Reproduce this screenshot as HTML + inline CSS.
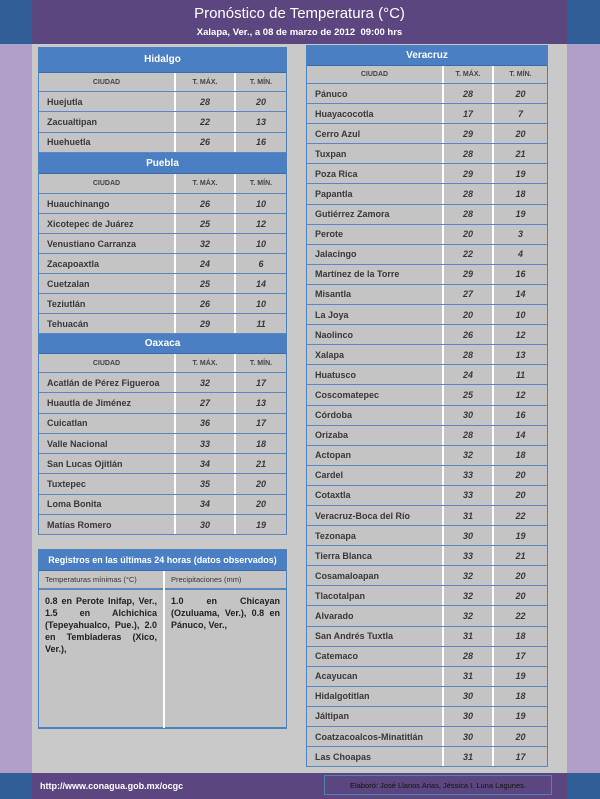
<!DOCTYPE html>
<html><head><meta charset="utf-8"><style>
*{margin:0;padding:0;box-sizing:border-box}
body{width:600px;height:799px;position:relative;background:#c9c9c9;font-family:"Liberation Sans",sans-serif;overflow:hidden}
.abs{position:absolute}
.t{position:absolute;border-left:1px solid #4f81bd;border-right:1px solid #4f81bd;background:#c4c4c4}
.ti{background:#4a7fc3;color:#fff;font-weight:bold;font-size:10px;display:flex;align-items:center;justify-content:center;border-bottom:1px solid #3a6aa8}
.r{display:flex;border-bottom:1px solid #5b86c0;color:#383838;font-size:9px;font-weight:bold}
.r div{display:flex;align-items:center}
.r .c{padding-left:8px}
.r .n{justify-content:center;font-style:italic;border-left:2px solid #fff}
.h{font-size:7px;font-weight:bold;color:#444}
.h .c{justify-content:center;padding-left:0}
.h .n{font-style:normal}
</style></head><body>
<div class="abs" style="left:0;top:0;width:32px;height:44px;background:#2f5f96"></div>
<div class="abs" style="left:567px;top:0;width:33px;height:44px;background:#2f5f96"></div>
<div class="abs" style="left:0;top:44px;width:32px;height:729px;background:#b29fc8"></div>
<div class="abs" style="left:567px;top:44px;width:33px;height:729px;background:#b29fc8"></div>
<div class="abs" style="left:32px;top:0;width:535px;height:44px;background:#5c4680;color:#fff;text-align:center">
<div style="font-size:15px;margin-top:5px">Pronóstico de Temperatura (°C)</div>
<div style="font-size:9.5px;font-weight:bold;margin-top:5px">Xalapa, Ver., a 08 de marzo de 2012&nbsp; 09:00 hrs</div></div>
<div class="abs" style="left:0;top:773px;width:600px;height:26px;background:#2f5f96"></div>
<div class="abs" style="left:32px;top:773px;width:535px;height:26px;background:#5c4680"></div>
<div class="abs" style="left:40px;top:781px;color:#fff;font-size:9px;font-weight:bold">http://www.conagua.gob.mx/ocgc</div>
<div class="abs" style="left:324px;top:775px;width:228px;height:20px;border:1px solid #4f81bd;color:#111;font-size:7.5px;display:flex;align-items:center;justify-content:center">Elaboró: José Llanos Arias, Jéssica I. Luna Lagunes.</div>
<div id="L"></div>
<script>
function tbl(x,y,w,cw,title,th,hh,rh,rows){
 let s=`<div class="t" style="left:${x}px;top:${y}px;width:${w}px"><div class="ti" style="height:${th}px">${title}</div>`;
 s+=`<div class="r h" style="height:${hh}px"><div class="c" style="width:${cw[0]}px">CIUDAD</div><div class="n" style="width:${cw[1]}px">T. MÁX.</div><div class="n" style="width:${cw[2]}px">T. MÍN.</div></div>`;
 rows.forEach(r=>{s+=`<div class="r" style="height:${rh}px"><div class="c" style="width:${cw[0]}px">${r[0]}</div><div class="n" style="width:${cw[1]}px">${r[1]}</div><div class="n" style="width:${cw[2]}px">${r[2]}</div></div>`});
 return s+'</div>';
}
const lc=[135,60,52], rc=[135,50,55];
let h='';
h+=tbl(38,47,249,lc,'Hidalgo',26,19,20.3,[['Huejutla',28,20],['Zacualtipan',22,13],['Huehuetla',26,16]]);
h+=tbl(38,153,249,lc,'Puebla',21,20,20,[['Huauchinango',26,10],['Xicotepec de Juárez',25,12],['Venustiano Carranza',32,10],['Zacapoaxtla',24,6],['Cuetzalan',25,14],['Teziutlán',26,10],['Tehuacán',29,11]]);
h+=tbl(38,334,249,lc,'Oaxaca',20,19,20.3,[['Acatlán de Pérez Figueroa',32,17],['Huautla de Jiménez',27,13],['Cuicatlan',36,17],['Valle Nacional',33,18],['San Lucas Ojitlán',34,21],['Tuxtepec',35,20],['Loma Bonita',34,20],['Matías Romero',30,19]]);
h+=tbl(306,45,242,rc,'Veracruz',21,18,20.1,[['Pánuco',28,20],['Huayacocotla',17,7],['Cerro Azul',29,20],['Tuxpan',28,21],['Poza Rica',29,19],['Papantla',28,18],['Gutiérrez Zamora',28,19],['Perote',20,3],['Jalacingo',22,4],['Martínez de la Torre',29,16],['Misantla',27,14],['La Joya',20,10],['Naolinco',26,12],['Xalapa',28,13],['Huatusco',24,11],['Coscomatepec',25,12],['Córdoba',30,16],['Orizaba',28,14],['Actopan',32,18],['Cardel',33,20],['Cotaxtla',33,20],['Veracruz-Boca del Río',31,22],['Tezonapa',30,19],['Tierra Blanca',33,21],['Cosamaloapan',32,20],['Tlacotalpan',32,20],['Alvarado',32,22],['San Andrés Tuxtla',31,18],['Catemaco',28,17],['Acayucan',31,19],['Hidalgotitlan',30,18],['Jáltipan',30,19],['Coatzacoalcos-Minatitlán',30,20],['Las Choapas',31,17]]);
document.getElementById('L').innerHTML=h;
</script>
<div class="abs" style="left:38px;top:549px;width:249px;height:180px;border:1px solid #4f81bd;border-bottom-width:2px;background:#c4c4c4">
<div class="ti" style="height:21px;font-size:9px">Registros en las últimas 24 horas (datos observados)</div>
<div style="display:flex;height:157px">
<div style="width:126px;border-right:2px solid #fff">
<div style="height:19px;border-bottom:2px solid #5b86c0;font-size:7.5px;color:#333;padding:4px 0 0 6px">Temperaturas mínimas (°C)</div>
<div style="font-size:9px;font-weight:bold;color:#222;padding:5px 6px;text-align:justify;line-height:12px">0.8 en Perote Inifap, Ver., 1.5 en Alchichica (Tepeyahualco, Pue.), 2.0 en Tembladeras (Xico, Ver.),</div></div>
<div style="flex:1">
<div style="height:19px;border-bottom:2px solid #5b86c0;font-size:7.5px;color:#333;padding:4px 0 0 6px">Precipitaciones (mm)</div>
<div style="font-size:9px;font-weight:bold;color:#222;padding:5px 6px;text-align:justify;line-height:12px">1.0 en Chicayan (Ozuluama, Ver.), 0.8 en Pánuco, Ver.,</div></div>
</div></div>
</body></html>
